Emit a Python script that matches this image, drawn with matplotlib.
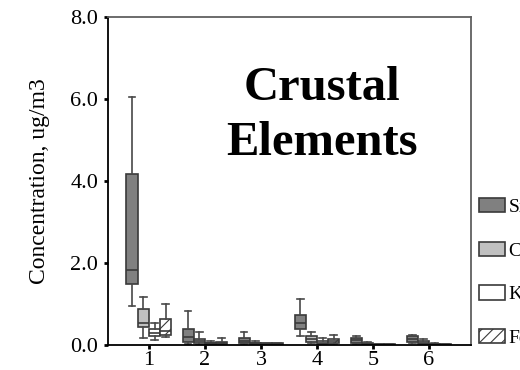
import matplotlib
matplotlib.use("Agg")
import matplotlib.pyplot as plt
from matplotlib.patches import Patch

sites = [1, 2, 3, 4, 5, 6]
elements = ["Si", "Ca", "K", "Fe"]

# box statistics (ug/m3), one value per site
si_whislo = [0.95, 0.03, 0.02, 0.22, 0.03, 0.05]
si_q1 = [1.49, 0.07, 0.05, 0.39, 0.05, 0.07]
si_med = [1.83, 0.20, 0.10, 0.54, 0.11, 0.15]
si_q3 = [4.17, 0.39, 0.17, 0.73, 0.17, 0.22]
si_whishi = [6.05, 0.83, 0.32, 1.12, 0.22, 0.24]

ca_whislo = [0.17, 0.01, 0.01, 0.05, 0.00, 0.02]
ca_q1 = [0.44, 0.05, 0.02, 0.07, 0.01, 0.03]
ca_med = [0.54, 0.09, 0.04, 0.15, 0.03, 0.06]
ca_q3 = [0.88, 0.15, 0.06, 0.22, 0.05, 0.10]
ca_whishi = [1.17, 0.32, 0.10, 0.32, 0.07, 0.15]

k_whislo = [0.12, 0.00, 0.00, 0.01, 0.00, 0.00]
k_q1 = [0.22, 0.02, 0.01, 0.02, 0.01, 0.01]
k_med = [0.29, 0.04, 0.02, 0.05, 0.01, 0.02]
k_q3 = [0.39, 0.06, 0.04, 0.10, 0.02, 0.03]
k_whishi = [0.54, 0.10, 0.06, 0.17, 0.03, 0.04]

fe_whislo = [0.20, 0.01, 0.00, 0.03, 0.00, 0.00]
fe_q1 = [0.24, 0.02, 0.01, 0.05, 0.01, 0.01]
fe_med = [0.35, 0.05, 0.02, 0.10, 0.01, 0.01]
fe_q3 = [0.63, 0.08, 0.04, 0.15, 0.02, 0.02]
fe_whishi = [1.00, 0.17, 0.06, 0.24, 0.03, 0.03]

stats = {
    "Si": (si_whislo, si_q1, si_med, si_q3, si_whishi),
    "Ca": (ca_whislo, ca_q1, ca_med, ca_q3, ca_whishi),
    "K": (k_whislo, k_q1, k_med, k_q3, k_whishi),
    "Fe": (fe_whislo, fe_q1, fe_med, fe_q3, fe_whishi),
}
fills = {"Si": "#808080", "Ca": "#c0c0c0", "K": "#ffffff", "Fe": "#ffffff"}
hatches = {"Si": "", "Ca": "", "K": "", "Fe": "///"}
offsets = [-0.3, -0.1, 0.1, 0.3]

plt.rcParams["font.family"] = ["Liberation Serif", "DejaVu Serif"]
plt.rcParams["hatch.linewidth"] = 0.8
plt.rcParams["hatch.color"] = "#303030"

fig = plt.figure(figsize=(5.2, 3.7), dpi=100)
ax = fig.add_axes([0.2077, 0.0676, 0.6981, 0.8865])

edge = "#3a3a3a"
for el, off in zip(elements, offsets):
    lo, q1, med, q3, hi = stats[el]
    bxpstats = []
    for i in range(len(sites)):
        bxpstats.append({"whislo": lo[i], "q1": q1[i], "med": med[i],
                         "q3": q3[i], "whishi": hi[i], "fliers": []})
    res = ax.bxp(bxpstats, positions=[s + off for s in sites], widths=0.2,
                 patch_artist=True, showfliers=False, manage_ticks=False,
                 boxprops=dict(facecolor=fills[el], edgecolor=edge, linewidth=1.2),
                 medianprops=dict(color=edge, linewidth=1.2),
                 whiskerprops=dict(color="#484848", linewidth=1.2),
                 capprops=dict(color="#484848", linewidth=1.2),
                 capwidths=0.12)
    for b in res["boxes"]:
        b.set_hatch(hatches[el])

ax.set_xlim(0.27, 6.75)
ax.set_ylim(0, 8)
ax.set_xticks(sites)
ax.set_xticklabels([str(s) for s in sites], fontsize=16)
ax.set_yticks([0, 2, 4, 6, 8])
ax.set_yticklabels(["0.0", "2.0", "4.0", "6.0", "8.0"], fontsize=16)
ax.tick_params(axis="both", direction="out", length=3, width=2)
ax.tick_params(axis="x", pad=1)
ax.tick_params(axis="y", pad=4)
ax.set_ylabel("Concentration, ug/m3", fontsize=17, labelpad=15)

ax.spines["left"].set_color("black")
ax.spines["bottom"].set_color("black")
ax.spines["top"].set_color("#606060")
ax.spines["right"].set_color("#606060")
for sp in ax.spines.values():
    sp.set_linewidth(1.3)

ax.text(0.59, 0.70, "Crustal\nElements", transform=ax.transAxes,
        ha="center", va="center", fontsize=35, fontweight="bold",
        linespacing=1.33)

handles = [Patch(facecolor=fills[el], edgecolor=edge, hatch=hatches[el], linewidth=1.2)
           for el in elements]
fig.legend(handles, elements, loc="upper left", bbox_to_anchor=(0.922, 0.465),
           frameon=False, fontsize=14, handlelength=1.3, handleheight=0.75,
           handletextpad=0.2, labelspacing=1.33, borderpad=0, borderaxespad=0)

fig.savefig("out.png", dpi=100)
